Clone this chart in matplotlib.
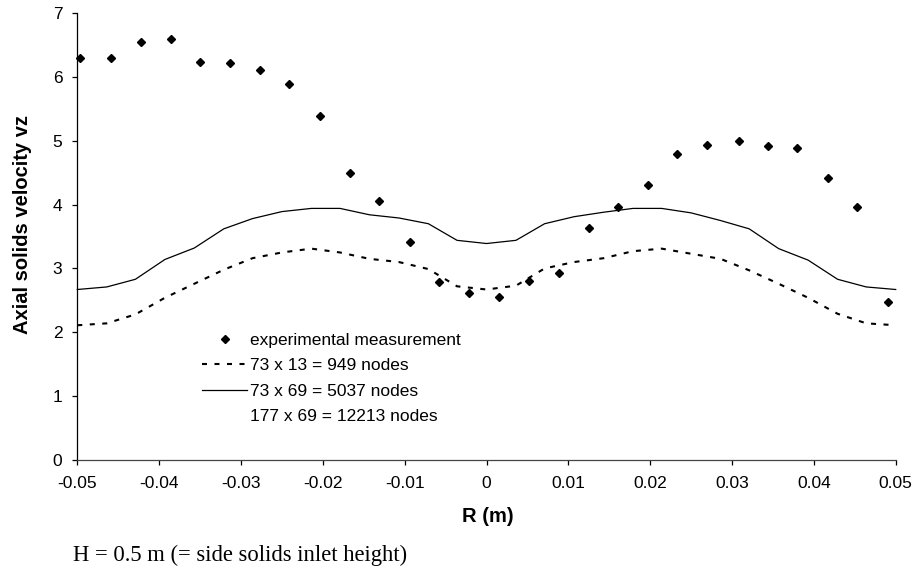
import matplotlib
matplotlib.use("Agg")
import matplotlib.pyplot as plt
from matplotlib.lines import Line2D

plt.rcParams["font.family"] = ["Liberation Sans", "DejaVu Sans"]

# ---------------------------------------------------------------- data ---
# experimental measurement (diamonds)
r_exp = [-0.0497, -0.0459, -0.0422, -0.0386, -0.0350, -0.0314, -0.0277,
         -0.0241, -0.0203, -0.0167, -0.0131, -0.0094, -0.0058, -0.0021,
         0.0015, 0.0052, 0.0088, 0.0125, 0.0161, 0.0197, 0.0233, 0.0270,
         0.0308, 0.0344, 0.0380, 0.0417, 0.0453, 0.0490]
vz_exp = [6.30, 6.30, 6.54, 6.59, 6.23, 6.22, 6.10, 5.89, 5.39, 4.50, 4.06,
          3.41, 2.79, 2.62, 2.55, 2.81, 2.93, 3.64, 3.96, 4.31, 4.79, 4.94,
          5.00, 4.91, 4.89, 4.41, 3.96, 2.48]

# simulation grid positions
r_sim = [-0.05, -0.0464, -0.0429, -0.0393, -0.0357, -0.0321, -0.0286,
         -0.0250, -0.0214, -0.0179, -0.0143, -0.0107, -0.0071, -0.0036,
         0.0, 0.0036, 0.0071, 0.0107, 0.0143, 0.0179, 0.0214, 0.0250,
         0.0286, 0.0321, 0.0357, 0.0393, 0.0429, 0.0464, 0.05]
# 73 x 13 = 949 nodes (dashed)
vz_949 = [2.11, 2.14, 2.28, 2.54, 2.76, 2.98, 3.16, 3.25, 3.31, 3.25, 3.15,
          3.10, 2.99, 2.72, 2.67, 2.73, 3.00, 3.10, 3.16, 3.27, 3.31, 3.23,
          3.15, 2.97, 2.76, 2.54, 2.29, 2.14, 2.11]
# 73 x 69 = 5037 nodes (solid)
vz_5037 = [2.67, 2.71, 2.83, 3.14, 3.32, 3.62, 3.78, 3.89, 3.94, 3.94, 3.84,
           3.79, 3.70, 3.44, 3.39, 3.44, 3.70, 3.81, 3.88, 3.94, 3.94, 3.87,
           3.75, 3.62, 3.31, 3.13, 2.83, 2.71, 2.67]

x_ticks = [-0.05, -0.04, -0.03, -0.02, -0.01, 0.0, 0.01, 0.02, 0.03, 0.04, 0.05]
x_tick_labels = ["-0.05", "-0.04", "-0.03", "-0.02", "-0.01", "0",
                 "0.01", "0.02", "0.03", "0.04", "0.05"]
y_ticks = [0, 1, 2, 3, 4, 5, 6, 7]

W, H = 917, 568

# ---------------------------------------------------------------- plot ---
fig = plt.figure(figsize=(W / 100, H / 100), dpi=100)
ax = fig.add_axes([77.3 / W, 1 - 460 / H, (895.7 - 77.3) / W, (460 - 13) / H])

ax.plot(r_exp, vz_exp, ls="none", marker="D", ms=3.9, color="black",
        label="experimental measurement")
ax.plot(r_sim, vz_949, color="black", lw=1.5, dashes=(2.4, 3.6),
        label="73 x 13 = 949 nodes")
ax.plot(r_sim, vz_5037, color="black", lw=0.9, label="73 x 69 = 5037 nodes")

ax.set_xlim(-0.05, 0.05)
ax.set_ylim(0, 7)
ax.set_xticks(x_ticks)
ax.set_xticklabels(x_tick_labels)
ax.set_yticks(y_ticks)
ax.tick_params(direction="out", length=3.8, width=0.9, labelsize=12.5)
ax.tick_params(axis="x", pad=8)
ax.tick_params(axis="y", pad=7)

for s in ("top", "right"):
    ax.spines[s].set_visible(False)
ax.spines["left"].set_color("black")
ax.spines["bottom"].set_color("#444444")
ax.spines["left"].set_linewidth(0.9)
ax.spines["bottom"].set_linewidth(0.9)
for ln in ax.lines:
    ln.set_clip_on(False)

handles, labels = ax.get_legend_handles_labels()
handles.append(Line2D([], [], color="none"))
labels.append("177 x 69 = 12213 nodes")
ax.legend(handles, labels, loc="upper left", frameon=False,
          bbox_to_anchor=(202 / W, 1 - 333 / H), bbox_transform=fig.transFigure,
          borderpad=0, borderaxespad=0, handlelength=2.6, handletextpad=0.17,
          labelspacing=0.58, fontsize=12.5)

fig.text(23 / W, 1 - 224.5 / H, "Axial solids velocity vz", rotation=90,
         ha="center", va="center", fontsize=14.5, fontweight="bold")
fig.text(488 / W, 1 - 517 / H, "R (m)", ha="center", va="center",
         fontsize=14.5, fontweight="bold")
fig.text(73 / W, 1 - 555 / H, "H = 0.5 m (= side solids inlet height)",
         ha="left", va="center", fontsize=16.3,
         family=["Liberation Serif", "DejaVu Serif"])

fig.savefig("out.png", dpi=100)
